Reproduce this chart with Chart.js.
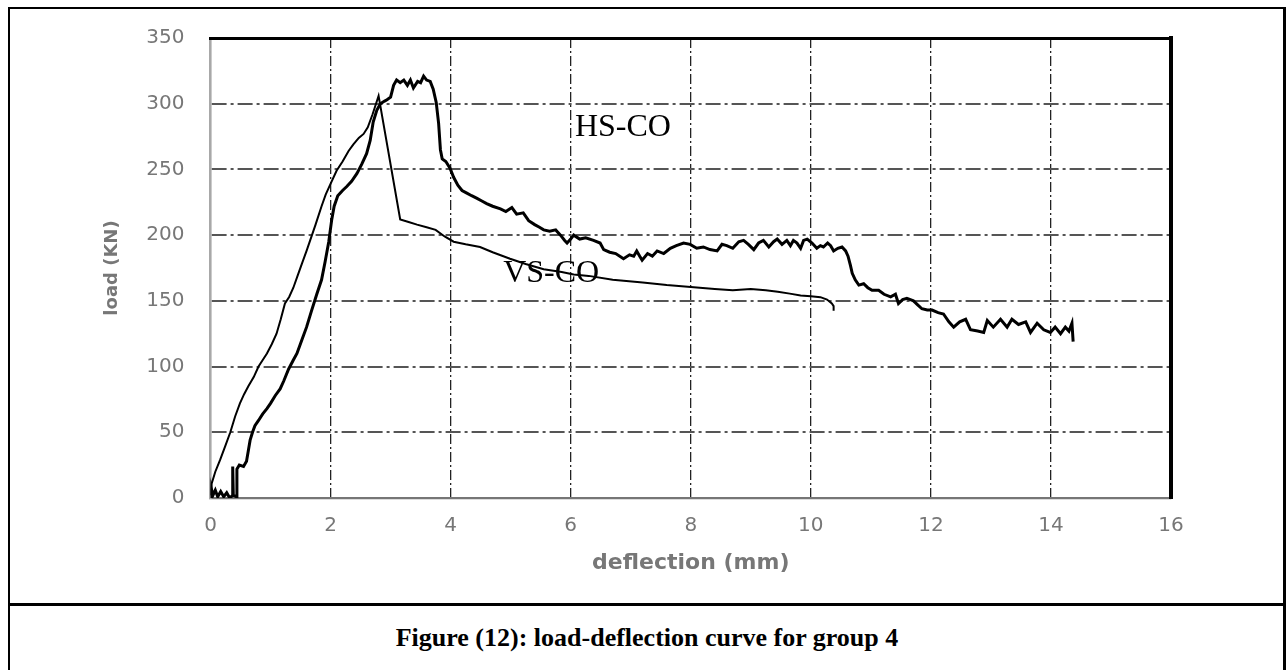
<!DOCTYPE html>
<html>
<head>
<meta charset="utf-8">
<script src="https://cdn.jsdelivr.net/npm/chart.js@4.4.1/dist/chart.umd.min.js"></script>
<style>
  html, body { margin: 0; padding: 0; background: #fff; }
  body { width: 1287px; height: 670px; position: relative; overflow: hidden; }
  #frame { position: absolute; left: 8px; top: 7px; width: 1278px; height: 700px; border: 2px solid #000; border-right-width: 3px; border-bottom: none; box-sizing: border-box; }
  #sep { position: absolute; left: 8px; top: 603px; width: 1278px; height: 3px; background: #000; }
  #caption { position: absolute; left: 8px; width: 1278px; top: 625px; text-align: center; font: bold 26px/26px "Liberation Serif", "Times New Roman", serif; color: #000; }
  #chart { position: absolute; left: 0; top: 0; }
</style>
</head>
<body>
<div id="frame"></div>
<div id="sep"></div>
<canvas id="chart" width="1287" height="603"></canvas>
<div id="caption">Figure (12): load-deflection curve for group 4</div>
<script>
// tick values
const deflectionTicks = [0, 2, 4, 6, 8, 10, 12, 14, 16];
const loadTicks = [0, 50, 100, 150, 200, 250, 300, 350];

// HS-CO (thick, noisy curve)
const hsDeflection = [0, 0.01, 0.04, 0.08, 0.12, 0.17, 0.22, 0.27, 0.32, 0.37, 0.37, 0.38, 0.43, 0.44, 0.48, 0.55, 0.60, 0.63, 0.66, 0.70,
  0.74, 0.80, 0.87, 0.94, 1.00, 1.08, 1.16, 1.22, 1.30, 1.38, 1.44, 1.52, 1.60, 1.68, 1.77, 1.85, 1.91, 1.97, 2.02, 2.06,
  2.12, 2.20, 2.27, 2.35, 2.44, 2.52, 2.60, 2.66, 2.71, 2.77, 2.83, 2.90, 2.94, 3.00, 3.05, 3.10, 3.16, 3.22, 3.28, 3.33,
  3.38, 3.45, 3.50, 3.55, 3.60, 3.66, 3.71, 3.76, 3.80, 3.83, 3.86, 3.92, 3.99, 4.05, 4.12, 4.19, 4.27, 4.35, 4.44, 4.52,
  4.60, 4.70, 4.83, 4.92, 5.02, 5.10, 5.21, 5.30, 5.40, 5.48, 5.55, 5.65, 5.75, 5.83, 5.90, 5.94, 6.00, 6.05, 6.15, 6.25,
  6.38, 6.49, 6.55, 6.65, 6.75, 6.88, 6.98, 7.05, 7.10, 7.15, 7.19, 7.28, 7.36, 7.44, 7.55, 7.66, 7.76, 7.88, 7.99, 8.10,
  8.21, 8.32, 8.44, 8.52, 8.60, 8.70, 8.80, 8.88, 8.96, 9.05, 9.13, 9.21, 9.30, 9.38, 9.44, 9.52, 9.60, 9.66, 9.71, 9.77,
  9.83, 9.88, 9.94, 10.02, 10.10, 10.16, 10.21, 10.28, 10.33, 10.38, 10.45, 10.52, 10.58, 10.62, 10.66, 10.69, 10.74, 10.80, 10.88, 10.95,
  11.02, 11.13, 11.22, 11.33, 11.41, 11.46, 11.53, 11.60, 11.71, 11.78, 11.85, 11.94, 12.02, 12.12, 12.21, 12.30, 12.38, 12.48, 12.58, 12.66,
  12.78, 12.88, 12.94, 13.04, 13.16, 13.27, 13.35, 13.46, 13.58, 13.66, 13.77, 13.88, 13.99, 14.07, 14.16, 14.24, 14.30, 14.35, 14.37];
const hsLoad = [0, 8, 2, 6, 1, 5, 1, 4, 0, 2, 24, 2, 1, 22, 25, 24, 28, 36, 44, 50,
  55, 59, 64, 68, 72, 78, 83, 89, 98, 105, 110, 120, 130, 142, 155, 166, 180, 195, 212, 222,
  230, 234, 237, 241, 247, 254, 262, 272, 286, 295, 300, 302, 303, 305, 314, 318, 316, 318, 314, 318,
  312, 317, 316, 321, 318, 317, 311, 301, 285, 265, 258, 256, 251, 244, 238, 234, 232, 230, 228, 226,
  224, 222, 220, 218, 221, 216, 217, 211, 208, 206, 204, 203, 204, 200, 196, 194, 197, 200, 197, 198,
  196, 194, 189, 187, 186, 182, 185, 184, 188, 184, 181, 186, 184, 188, 186, 190, 192, 194, 193, 190,
  191, 189, 188, 193, 192, 190, 195, 196, 193, 189, 194, 196, 191, 195, 197, 193, 196, 192, 196, 194,
  190, 196, 197, 194, 190, 192, 191, 194, 192, 188, 190, 191, 188, 184, 177, 171, 166, 162, 163, 160,
  158, 158, 155, 153, 155, 148, 151, 152, 150, 147, 144, 143, 143, 141, 140, 134, 130, 134, 136, 128,
  127, 126, 135, 130, 136, 130, 136, 132, 134, 126, 133, 128, 126, 130, 125, 130, 127, 133, 119];

// VS-CO (thin curve)
const vsDeflection = [0, 0.02, 0.08, 0.16, 0.25, 0.33, 0.41, 0.49, 0.56, 0.63, 0.72, 0.80, 0.87, 0.94, 1.02, 1.10, 1.17, 1.24, 1.31, 1.38,
  1.45, 1.52, 1.60, 1.66, 1.75, 1.85, 1.92, 1.99, 2.10, 2.20, 2.30, 2.38, 2.47, 2.55, 2.62, 2.70, 2.80, 3.16, 3.30, 3.44,
  3.60, 3.75, 3.90, 4.05, 4.25, 4.49, 4.70, 4.99, 5.25, 5.55, 5.85, 6.05, 6.30, 6.70, 7.20, 7.60, 8.00, 8.40, 8.70, 9.00,
  9.25, 9.45, 9.65, 9.83, 10.00, 10.16, 10.27, 10.35, 10.38, 10.38];
const vsLoad = [2, 11, 20, 29, 40, 50, 62, 72, 79, 85, 92, 100, 105, 110, 117, 125, 136, 148, 153, 160,
  169, 178, 188, 196, 208, 222, 231, 238, 249, 256, 264, 269, 274, 277, 282, 292, 306, 212, 210, 208,
  206, 204, 199, 195, 193, 191, 187, 182, 178, 174, 172, 170, 169, 166, 164, 162, 160.5, 159, 158, 159,
  158, 157, 155.5, 154, 153.5, 152.8, 151, 148, 146, 142.5];

// curve names written on the plot (data units)
const curveNames = [
  { text: 'HS-CO', x: 6.07, y: 275.6 },
  { text: 'VS-CO', x: 4.875, y: 164 }
];

const toPoints = (xs, ys) => xs.map((v, i) => ({ x: v, y: ys[i] }));

const namesPlugin = {
  id: 'curveNames',
  afterDatasetsDraw(chart) {
    const { ctx, scales: { x, y } } = chart;
    ctx.save();
    ctx.font = '32px "Liberation Serif", "Times New Roman", serif';
    ctx.fillStyle = '#000';
    ctx.textBaseline = 'alphabetic';
    curveNames.forEach(n => ctx.fillText(n.text, x.getPixelForValue(n.x), y.getPixelForValue(n.y)));
    ctx.restore();
  }
};

Chart.defaults.font.family = '"DejaVu Sans", sans-serif';

const gray = '#777';

new Chart(document.getElementById('chart'), {
  type: 'scatter',
  data: {
    datasets: [
      { label: 'HS-CO', data: toPoints(hsDeflection, hsLoad), showLine: true, borderColor: '#000', borderWidth: 3, pointRadius: 0, tension: 0 },
      { label: 'VS-CO', data: toPoints(vsDeflection, vsLoad), showLine: true, borderColor: '#000', borderWidth: 2, pointRadius: 0, tension: 0 }
    ]
  },
  options: {
    responsive: false,
    animation: false,
    events: [],
    layout: { padding: { left: 100, right: 116, top: 37, bottom: 27 } },
    plugins: { legend: { display: false }, tooltip: { enabled: false } },
    scales: {
      x: {
        type: 'linear', position: 'bottom', min: 0, max: 16,
        afterBuildTicks: s => { s.ticks = deflectionTicks.map(v => ({ value: v })); },
        afterFit: s => { s.height = 78; },
        grid: {
          color: c => (c.tick && (c.tick.value === 0 || c.tick.value === 16)) ? 'rgba(0,0,0,0)' : '#222',
          lineWidth: 1.3, drawTicks: false
        },
        border: { display: true, color: '#767676', width: 2.3, dash: [10, 3, 2, 3] },
        ticks: { color: gray, font: { size: 20 }, padding: 16, maxRotation: 0 },
        title: { display: true, text: 'deflection (mm)', color: gray, font: { size: 22, weight: 'bold' }, padding: { top: 0, bottom: 0 } }
      },
      y: {
        type: 'linear', position: 'left', min: 0, max: 350,
        afterBuildTicks: s => { s.ticks = loadTicks.map(v => ({ value: v })); },
        afterFit: s => { s.width = 110.5; },
        grid: {
          color: c => (c.tick && (c.tick.value === 0 || c.tick.value === 350)) ? 'rgba(0,0,0,0)' : '#555',
          lineWidth: 2, drawTicks: false
        },
        border: { display: true, color: '#a8a8a8', width: 2.6, dash: [15, 4, 3, 4] },
        ticks: { color: gray, font: { size: 20 }, padding: 26 },
        title: { display: true, text: 'load (KN)', color: gray, font: { size: 18, weight: 'bold' }, padding: { top: 1.7, bottom: 0 } }
      },
      xTop: {
        type: 'linear', position: 'top',
        ticks: { display: false },
        grid: { display: false, drawTicks: false },
        border: { display: true, color: '#000', width: 3 },
        afterFit: s => { s.height = 0; }
      },
      yRight: {
        type: 'linear', position: 'right',
        ticks: { display: false },
        grid: { display: false, drawTicks: false },
        border: { display: true, color: '#000', width: 4 },
        afterFit: s => { s.width = 0; }
      }
    }
  },
  plugins: [namesPlugin]
});
</script>
</body>
</html>
